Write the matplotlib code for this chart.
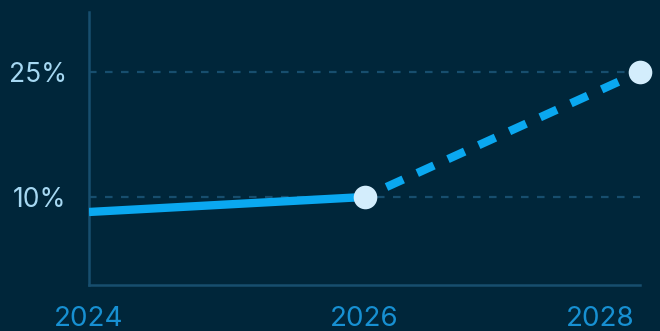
import matplotlib
matplotlib.use('Agg')
import matplotlib.pyplot as plt
from matplotlib.transforms import ScaledTranslation

# data
years_solid = [2024, 2026]
vals_solid = [8.2, 10.0]
years_proj = [2026, 2028]
vals_proj = [10.0, 25.0]
xticks = [2024, 2026, 2028]
yticks = [10, 25]
ylabels = ['10%', '25%']

bg = '#00263a'
line_col = '#0aa8f0'
dot_col = '#d3edfc'
grid_col = '#174e6e'
ylab_col = '#a6d8f2'
xlab_col = '#1790d2'

plt.rcParams['font.family'] = ['Inter', 'DejaVu Sans']

fig = plt.figure(figsize=(6.6, 3.31), dpi=100)
fig.patch.set_facecolor(bg)
ax = fig.add_axes([89/660, 46/331, 551/660, 273/331])
ax.set_facecolor(bg)

ax.set_xlim(2024, 2028)
ax.set_ylim(10 - 88/8.33, 25 + 60/8.33)

for y in yticks:
    ax.axhline(y, color=grid_col, lw=1.6, ls=(0, (3.4, 3.8)), zorder=1)

ax.plot(years_solid, vals_solid, color=line_col, lw=6, solid_capstyle='butt', zorder=3)
ax.plot(years_proj, vals_proj, color=line_col, lw=6, ls=(1.15, (2.2, 1.85)),
        dash_capstyle='butt', zorder=3)
ax.plot([years_proj[0], years_proj[-1]], [vals_proj[0], vals_proj[-1]], 'o',
        color=dot_col, ms=17, mew=0, zorder=4, clip_on=False)

for side in ['top', 'right']:
    ax.spines[side].set_visible(False)
for side in ['left', 'bottom']:
    ax.spines[side].set_color(grid_col)
    ax.spines[side].set_linewidth(1.8)

ax.set_xticks(xticks)
ax.set_xticklabels([str(x) for x in xticks], color=xlab_col, fontsize=20)
ax.set_yticks(yticks)
ax.set_yticklabels(ylabels, color=ylab_col, fontsize=19)
ax.tick_params(axis='x', length=0, pad=15)
ax.tick_params(axis='y', length=0, pad=16)
last = ax.get_xticklabels()[-1]
last.set_horizontalalignment('right')
last.set_transform(last.get_transform() + ScaledTranslation(-5/100, 0, fig.dpi_scale_trans))

fig.savefig('out.png', facecolor=fig.get_facecolor(), dpi=100)
